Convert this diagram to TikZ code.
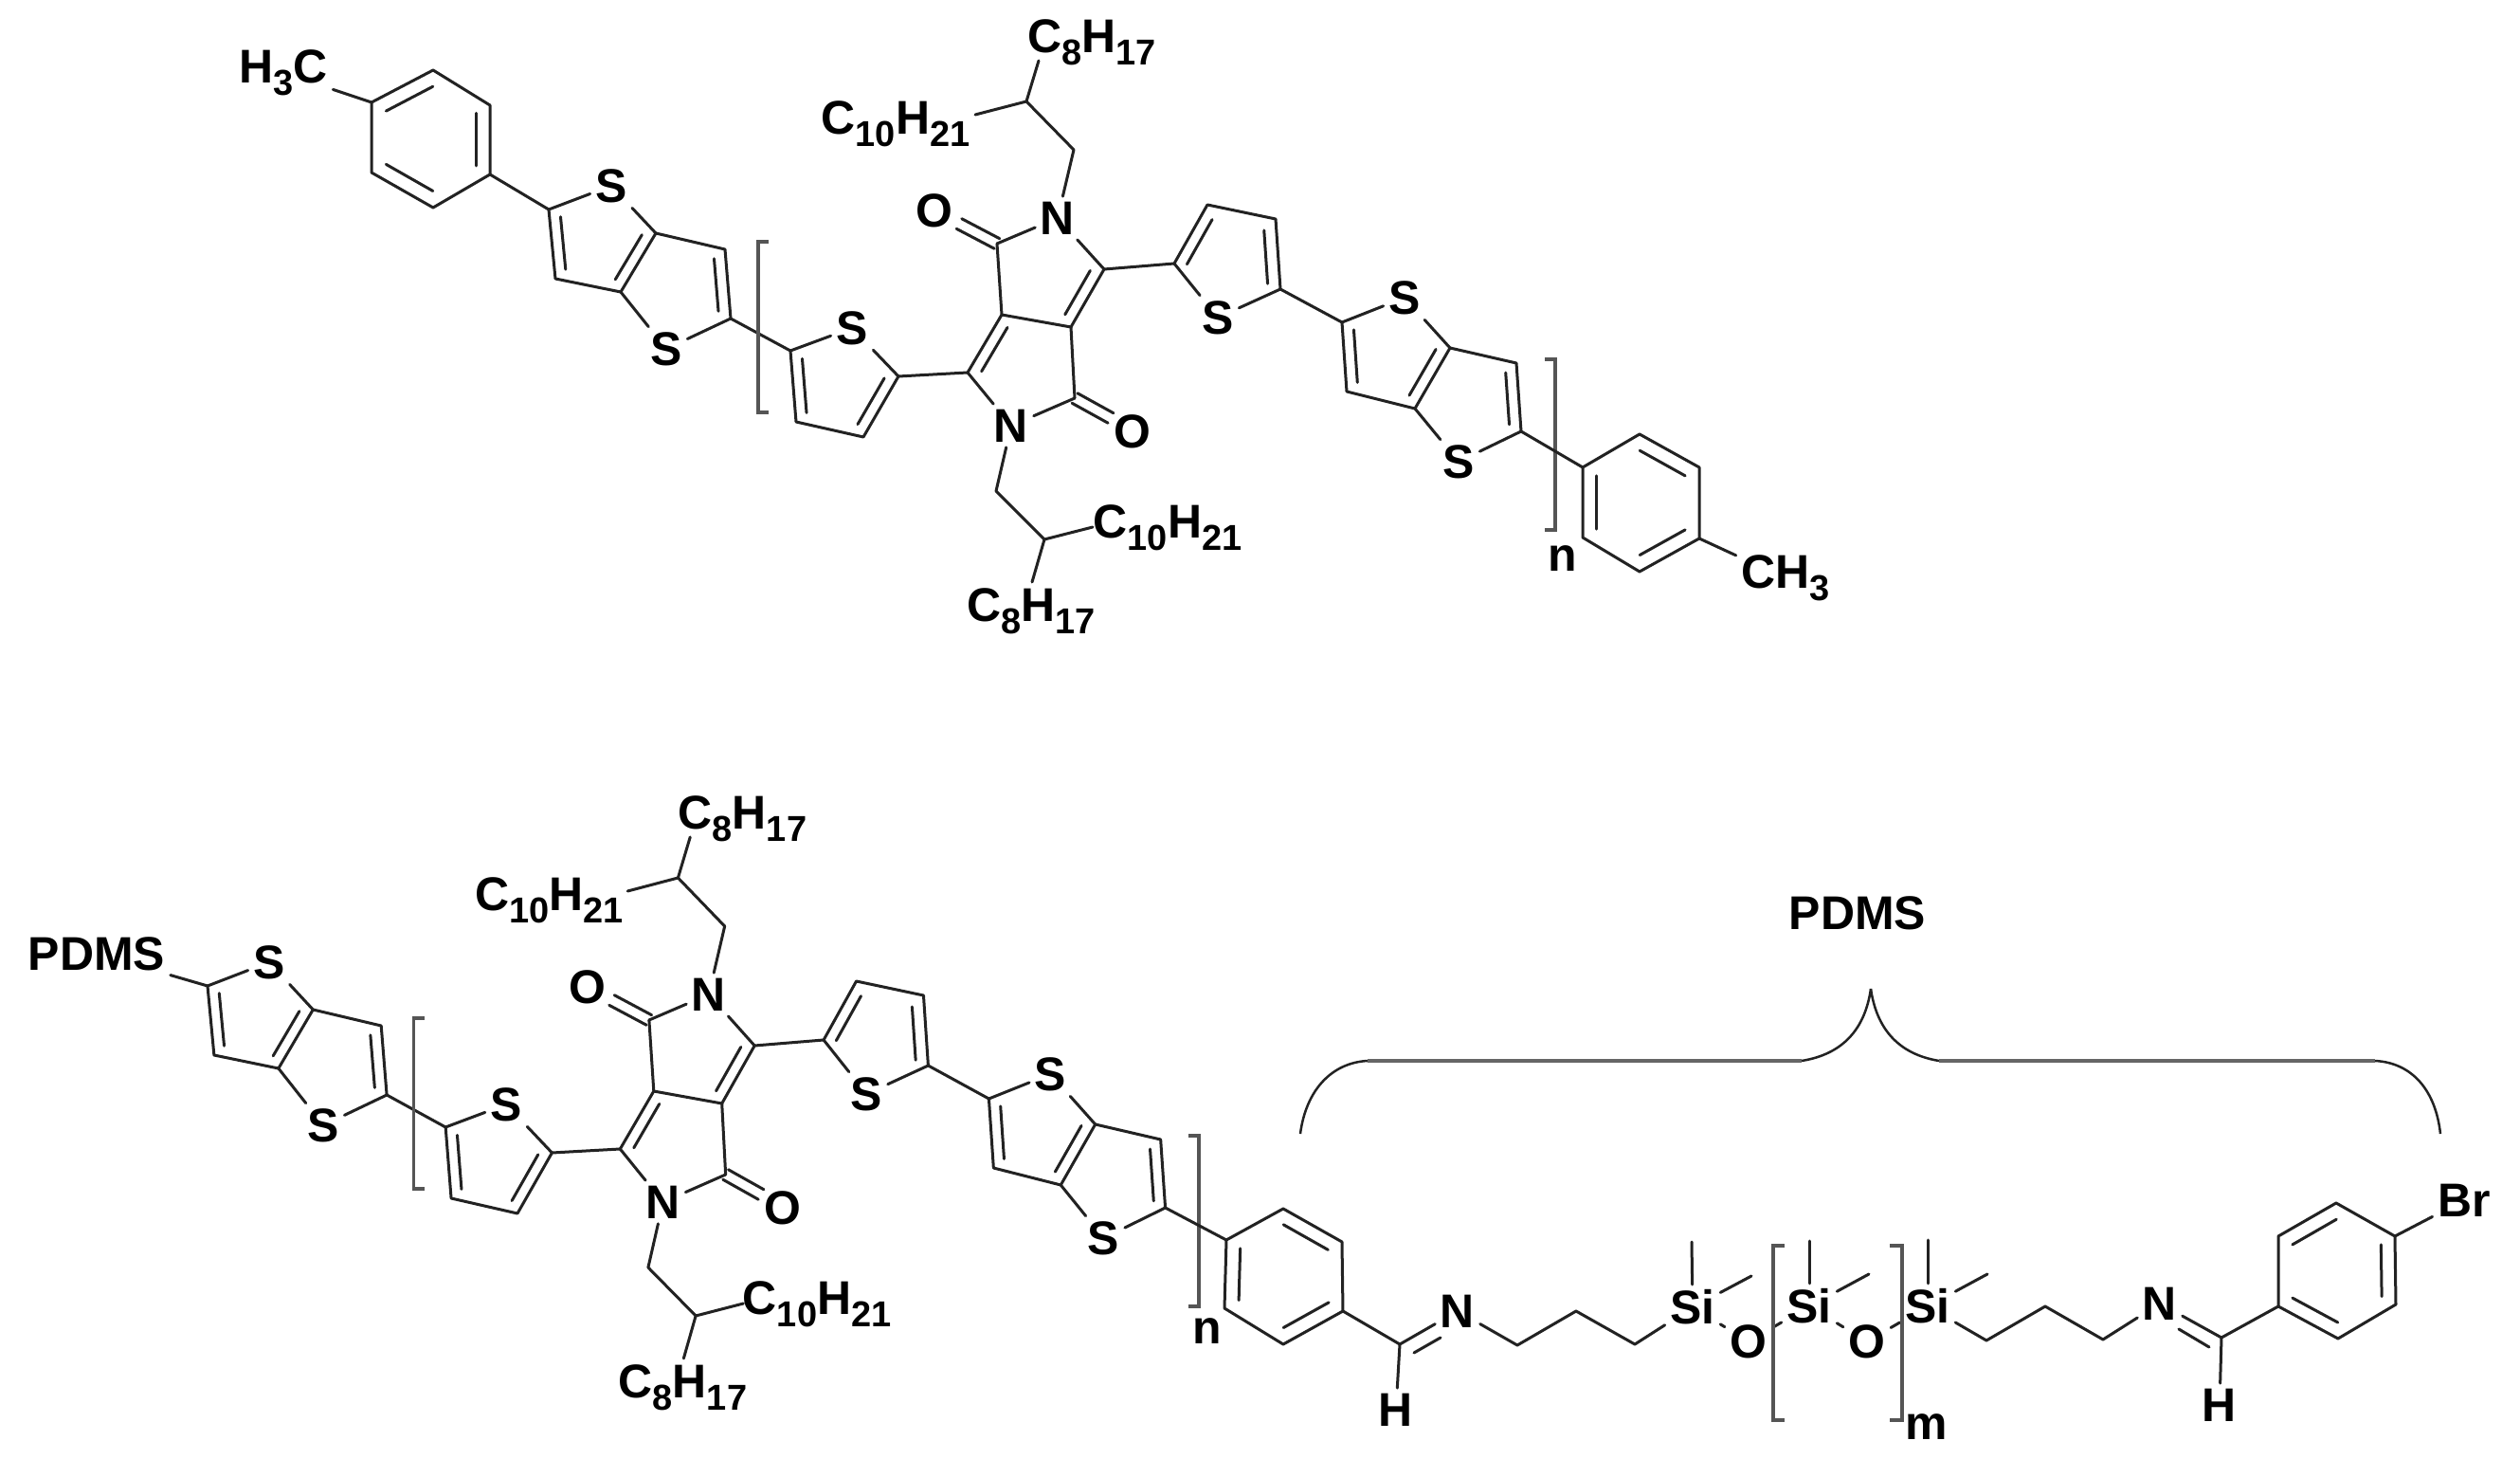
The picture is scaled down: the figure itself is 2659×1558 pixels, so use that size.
\documentclass[tikz,border=0pt]{standalone}
\usepackage{fontspec}
\setmainfont{Liberation Sans}
\usetikzlibrary{calc}
\definecolor{ink}{HTML}{222222}
\definecolor{brk}{HTML}{555555}
\definecolor{brc}{HTML}{666666}
\newcommand\lsub[1]{\raisebox{-0.27em}{\fontsize{10.8pt}{11pt}\selectfont #1}}
\newcommand\dbin[3]{\draw[bond] ($(#3)!.76!(#1)$) -- ($(#3)!.76!(#2)$);}
\newcommand\dbo[2]{\draw[bond] ($(#1)!1.7pt!90:(#2)$) -- ($(#2)!1.7pt!-90:(#1)$);\draw[bond] ($(#1)!1.7pt!-90:(#2)$) -- ($(#2)!1.7pt!90:(#1)$);}
\newcommand\rect[4]{\draw[bbk] (#2,#3) -- (#1,#3) -- (#1,#4) -- (#2,#4);}
\newcommand\corechain{%
  % first thieno-thiophene
  \coordinate (a) at (579,221); \coordinate (b) at (692,246); \coordinate (c) at (765,263);
  \coordinate (d) at (771,336); \coordinate (e) at (655,308); \coordinate (f) at (586,294);
  \node[lab] (S1) at (645,196) {S}; \node[lab] (S2) at (703,368) {S};
  \coordinate (r1) at (631,253); \coordinate (r2) at (717,304);
  \draw[bond] (a) -- (S1); \draw[bond] (S1) -- (b); \draw[bond] (b) -- (c) -- (d);
  \draw[bond] (d) -- (S2); \draw[bond] (S2) -- (e); \draw[bond] (e) -- (f) -- (a); \draw[bond] (b) -- (e);
  \dbin{a}{f}{r1} \dbin{b}{e}{r1} \dbin{c}{d}{r2}
  % thiophene 1
  \coordinate (g) at (834,370); \coordinate (h) at (948,397); \coordinate (i) at (911,461); \coordinate (j) at (840,445);
  \node[lab] (S3) at (899,346) {S}; \coordinate (r3) at (886,405);
  \draw[bond] (d) -- (g); \draw[bond] (g) -- (S3); \draw[bond] (S3) -- (h); \draw[bond] (h) -- (i) -- (j) -- (g);
  \dbin{g}{j}{r3} \dbin{h}{i}{r3}
  % DPP core
  \coordinate (k) at (1021,393); \coordinate (l) at (1057,332); \coordinate (m) at (1052,257);
  \coordinate (p) at (1130,345); \coordinate (q) at (1165,284); \coordinate (rr) at (1134,420);
  \node[lab] (N1) at (1116,230) {N}; \node[lab] (N2) at (1067,449) {N};
  \node[lab] (O1) at (986,222) {O}; \node[lab] (O2) at (1195,455) {O};
  \coordinate (o1e) at (1012,236); \coordinate (o2e) at (1172,441);
  \coordinate (r4) at (1082,388); \coordinate (r5) at (1104,290);
  \draw[bond] (h) -- (k); \draw[bond] (k) -- (l) -- (m); \draw[bond] (m) -- (N1); \draw[bond] (N1) -- (q);
  \draw[bond] (q) -- (p) -- (l); \draw[bond] (p) -- (rr); \draw[bond] (rr) -- (N2); \draw[bond] (N2) -- (k);
  \dbin{k}{l}{r4} \dbin{q}{p}{r5}
  \dbo{m}{o1e} \dbo{rr}{o2e}
  % upper alkyl
  \coordinate (u1) at (1133,158); \coordinate (u2) at (1083,107);
  \coordinate (u3) at (1096,64); \coordinate (u4) at (1029,121);
  \node[lab] (C8u) at (1152,45) {C\lsub{8}H\lsub{17}};
  \node[lab] (C10u) at (945,131) {C\lsub{10}H\lsub{21}};
  \draw[bond] (N1) -- (u1) -- (u2) -- (u3); \draw[bond] (u2) -- (u4);
  % lower alkyl
  \coordinate (v1) at (1051,518); \coordinate (v2) at (1102,569);
  \coordinate (v3) at (1153,556); \coordinate (v4) at (1089,614);
  \node[lab] (C10l) at (1232,557) {C\lsub{10}H\lsub{21}};
  \node[lab] (C8l) at (1088,645) {C\lsub{8}H\lsub{17}};
  \draw[bond] (N2) -- (v1) -- (v2) -- (v3); \draw[bond] (v2) -- (v4);
  % thiophene 2
  \coordinate (s) at (1239,278); \coordinate (tt) at (1274,216); \coordinate (uu) at (1346,231); \coordinate (vv) at (1351,305);
  \node[lab] (S4) at (1285,335) {S}; \coordinate (r6) at (1295,281);
  \draw[bond] (q) -- (s) -- (tt) -- (uu) -- (vv); \draw[bond] (s) -- (S4); \draw[bond] (S4) -- (vv);
  \dbin{s}{tt}{r6} \dbin{uu}{vv}{r6}
  % second thieno-thiophene
  \coordinate (w) at (1416,340); \coordinate (xx) at (1530,367); \coordinate (yy) at (1600,383);
  \coordinate (z) at (1605,455); \coordinate (aa) at (1493,431); \coordinate (ab) at (1421,413);
  \node[lab] (S5) at (1482,314) {S}; \node[lab] (S6) at (1539,487) {S};
  \coordinate (r7) at (1468,373); \coordinate (r8) at (1553,425);
  \draw[bond] (vv) -- (w); \draw[bond] (w) -- (S5); \draw[bond] (S5) -- (xx); \draw[bond] (xx) -- (yy) -- (z);
  \draw[bond] (z) -- (S6); \draw[bond] (S6) -- (aa); \draw[bond] (aa) -- (ab) -- (w); \draw[bond] (xx) -- (aa);
  \dbin{w}{ab}{r7} \dbin{xx}{aa}{r7} \dbin{yy}{z}{r8}
  % brackets
  \rect{800}{811}{255}{435}
  \rect{1641}{1630}{379}{559}
}
\tikzset{
  bond/.style={draw=ink,line width=.03cm,line cap=round,line join=round},
  bbk/.style={draw=brk,line width=.035cm},
  lab/.style={inner sep=.05cm,text=black,font=\fontsize{14.2pt}{15pt}\selectfont\bfseries},
}
\begin{document}
\begin{tikzpicture}[x=.01cm,y=-.01cm]
\path[fill=white] (0,0) rectangle (2659,1558);
\useasboundingbox (0,0) rectangle (2659,1558);
% ---------- top polymer
\begin{scope}[name prefix=t-]
  \corechain
\end{scope}
\node[lab] (nt) at (1649,589) {n};
% left tolyl
\coordinate (A1) at (457,74); \coordinate (A2) at (517,111); \coordinate (A3) at (517,184);
\coordinate (A4) at (457,219); \coordinate (A5) at (392,182); \coordinate (A6) at (392,108);
\coordinate (Ac) at (456,146);
\node[lab] (Me1) at (299,77) {H\lsub{3}C};
\draw[bond] (A1) -- (A2) -- (A3) -- (A4) -- (A5) -- (A6) -- cycle;
\dbin{A1}{A6}{Ac} \dbin{A2}{A3}{Ac} \dbin{A4}{A5}{Ac}
\draw[bond] (Me1) -- (A6);
\draw[bond] (A3) -- (t-a);
% right tolyl
\coordinate (B1) at (1670,493); \coordinate (B2) at (1730,458); \coordinate (B3) at (1793,493);
\coordinate (B4) at (1793,568); \coordinate (B5) at (1730,603); \coordinate (B6) at (1670,567);
\coordinate (Bc) at (1731,530);
\node[lab] (Me2) at (1884,610) {CH\lsub{3}};
\draw[bond] (B1) -- (B2) -- (B3) -- (B4) -- (B5) -- (B6) -- cycle;
\dbin{B1}{B6}{Bc} \dbin{B2}{B3}{Bc} \dbin{B4}{B5}{Bc}
\draw[bond] (B4) -- (Me2);
\draw[bond] (t-z) -- (B1);
% ---------- bottom polymer
\begin{scope}[name prefix=b-,shift={(-351.3,819)},xscale=.985]
  \corechain
\end{scope}
\node[lab] (nb) at (1274,1404) {n};
\node[lab] (PDl) at (102,1006) {PDMS};
\draw[bond] (PDl) -- (b-a);
% benzene + imine
\coordinate (C1) at (1294,1308); \coordinate (C2) at (1354,1275); \coordinate (C3) at (1416,1310);
\coordinate (C4) at (1417,1383); \coordinate (C5) at (1354,1418); \coordinate (C6) at (1292,1380);
\coordinate (Cc) at (1355,1345);
\draw[bond] (C1) -- (C2) -- (C3) -- (C4) -- (C5) -- (C6) -- cycle;
\dbin{C1}{C6}{Cc} \dbin{C2}{C3}{Cc} \dbin{C4}{C5}{Cc}
\draw[bond] (b-z) -- (C1);
\coordinate (im1) at (1477,1418); \coordinate (im1a) at (1492,1427); \coordinate (im1b) at (1520,1411);
\node[lab] (Ni1) at (1538,1383) {N};
\node[lab] (Hi1) at (1473,1487) {H};
\draw[bond] (C4) -- (im1); \draw[bond] (im1) -- (Ni1); \draw[bond] (im1a) -- (im1b); \draw[bond] (im1) -- (Hi1);
% propyl to Si
\coordinate (P1) at (1601,1419); \coordinate (P2) at (1663,1383); \coordinate (P3) at (1725,1418);
\node[lab] (Si1) at (1786,1379) {Si}; \node[lab] (Si2) at (1909,1378) {Si}; \node[lab] (Si3) at (2034,1378) {Si};
\node[lab] (Ox1) at (1845,1415) {O}; \node[lab] (Ox2) at (1970,1415) {O};
\draw[bond] (Ni1) -- (P1) -- (P2) -- (P3) -- (Si1);
\draw[bond] (Si1) -- (Ox1); \draw[bond] (Ox1) -- (Si2); \draw[bond] (Si2) -- (Ox2); \draw[bond] (Ox2) -- (Si3);
\coordinate (M1a) at (1785,1310); \coordinate (M1b) at (1848,1346);
\coordinate (M2a) at (1909,1309); \coordinate (M2b) at (1972,1344);
\coordinate (M3a) at (2034,1308); \coordinate (M3b) at (2097,1344);
\draw[bond] (Si1) -- (M1a); \draw[bond] (Si1) -- (M1b);
\draw[bond] (Si2) -- (M2a); \draw[bond] (Si2) -- (M2b);
\draw[bond] (Si3) -- (M3a); \draw[bond] (Si3) -- (M3b);
\rect{1871}{1883}{1314}{1498}
\rect{2007}{1994}{1314}{1498}
\node[lab] (mm) at (2033,1505) {m};
% propyl to imine
\coordinate (Q1) at (2096,1414); \coordinate (Q2) at (2158,1378); \coordinate (Q3) at (2219,1413);
\node[lab] (Ni2) at (2279,1375) {N};
\draw[bond] (Si3) -- (Q1) -- (Q2) -- (Q3) -- (Ni2);
\coordinate (im2) at (2344,1411); \coordinate (im2a) at (2299,1402); \coordinate (im2b) at (2331,1421);
\node[lab] (Hi2) at (2342,1482) {H};
\draw[bond] (Ni2) -- (im2); \draw[bond] (im2a) -- (im2b); \draw[bond] (im2) -- (Hi2);
% bromophenyl
\coordinate (D1) at (2404,1378); \coordinate (D2) at (2404,1304); \coordinate (D3) at (2465,1269);
\coordinate (D4) at (2527,1304); \coordinate (D5) at (2528,1376); \coordinate (D6) at (2467,1412);
\coordinate (Dc) at (2466,1341);
\node[lab] (Br) at (2600,1266) {Br};
\draw[bond] (D1) -- (D2) -- (D3) -- (D4) -- (D5) -- (D6) -- cycle;
\dbin{D1}{D6}{Dc} \dbin{D2}{D3}{Dc} \dbin{D4}{D5}{Dc}
\draw[bond] (im2) -- (D1); \draw[bond] (D4) -- (Br);
% PDMS brace
\node[lab] (PDt) at (1960,963) {PDMS};
\draw[draw=ink,line width=.025cm] (1372,1196) .. controls (1378,1150) and (1405,1121) .. (1443,1119);
\draw[draw=brc,line width=.04cm] (1443,1119) -- (1901,1119);
\draw[draw=ink,line width=.025cm] (1901,1119) .. controls (1945,1112) and (1968,1085) .. (1974,1043);
\draw[draw=ink,line width=.025cm] (1974,1043) .. controls (1980,1085) and (2003,1112) .. (2046,1119);
\draw[draw=brc,line width=.04cm] (2046,1119) -- (2506,1119);
\draw[draw=ink,line width=.025cm] (2506,1119) .. controls (2545,1121) and (2570,1150) .. (2575,1196);
\end{tikzpicture}
\end{document}
